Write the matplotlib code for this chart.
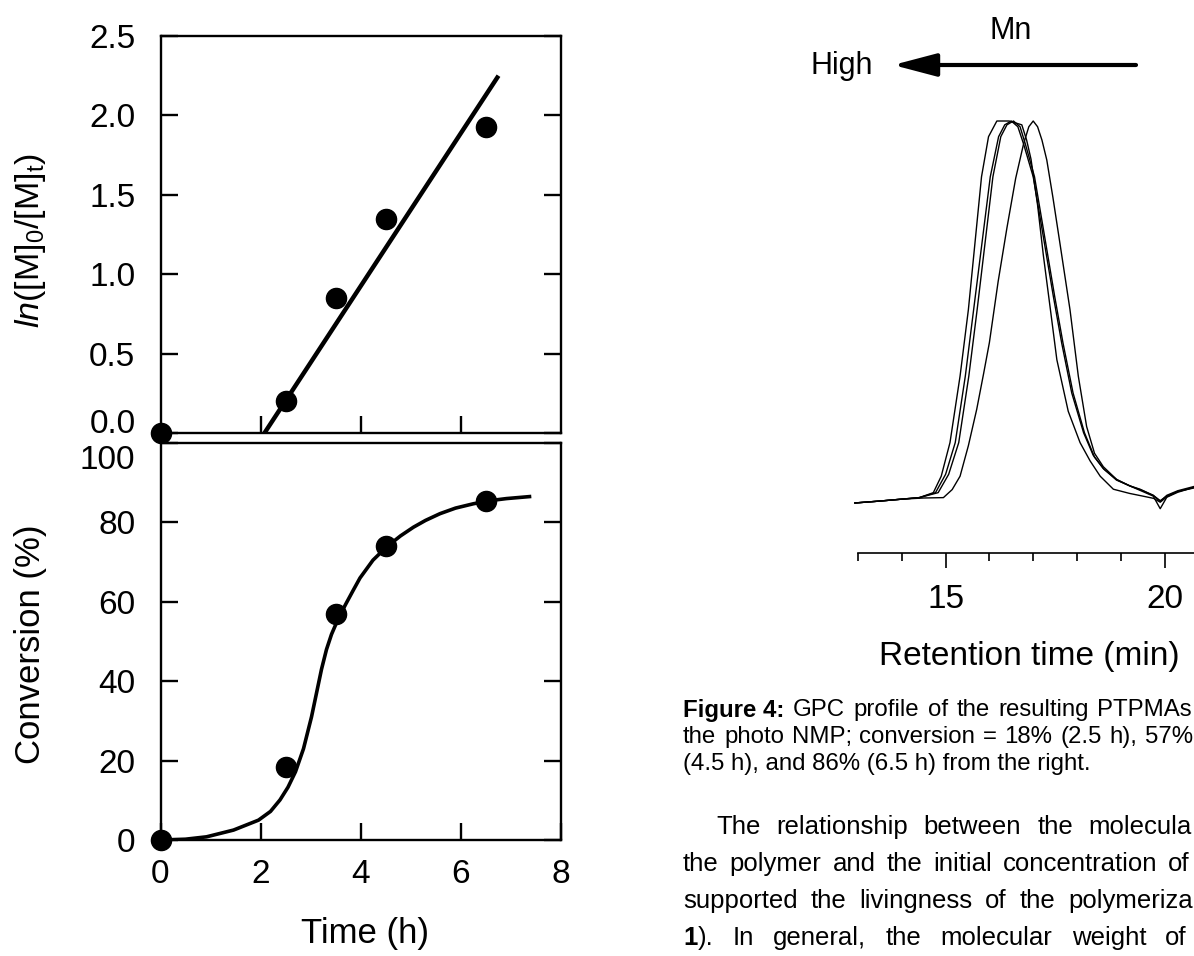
import numpy as np
import matplotlib
matplotlib.use("Agg")
import matplotlib.pyplot as plt
from matplotlib.transforms import ScaledTranslation

plt.rcParams["font.family"] = ["Liberation Sans", "DejaVu Sans"]
plt.rcParams["mathtext.fontset"] = "custom"
plt.rcParams["mathtext.rm"] = "Liberation Sans"
plt.rcParams["mathtext.it"] = "Liberation Sans:italic"

# --- kinetics data (left panels) ---
time_h = [0, 2.5, 3.5, 4.5, 6.5]
ln_ratio = [0.0, 0.20, 0.85, 1.35, 1.93]
conversion = [0, 18.5, 57, 74, 85.5]

# linear fit drawn in the upper panel
fit_time = [2.08, 6.76]
fit_ln = [0.0, 2.25]

# guide curve through the conversion points
guide_time = [0, 0.5, 0.92, 1.46, 1.96, 2.2, 2.39, 2.55, 2.7, 2.86, 3.02,
              3.12, 3.22, 3.32, 3.42, 3.55, 3.7, 3.85, 3.99, 4.25, 4.52, 4.8,
              5.06, 5.3, 5.59, 5.9, 6.26, 6.6, 6.92, 7.38]
guide_conv = [0, 0.2, 0.8, 2.5, 5.0, 7.2, 10.1, 13.3, 17.2, 23.0, 31.0,
              37.0, 43.0, 48.0, 51.8, 55.6, 59.3, 62.8, 66.0, 70.5, 73.8, 76.6,
              78.8, 80.5, 82.2, 83.6, 84.7, 85.5, 86.0, 86.5]

# --- GPC traces, normalised intensity vs retention time (min) ---
ret_86 = [12.93, 13.5, 14.0, 14.4, 14.72, 14.9, 15.1, 15.33, 15.52, 15.67,
          15.82, 15.98, 16.17, 16.45, 16.74, 16.85, 16.95, 17.1, 17.23, 17.4,
          17.54, 17.8, 18.07, 18.3, 18.53, 18.83, 19.2, 19.5, 19.75, 19.9,
          20.05, 20.3, 20.7]
int_86 = [0.0, 0.005, 0.01, 0.014, 0.027, 0.07, 0.158, 0.332, 0.506, 0.68,
          0.854, 0.959, 1.0, 1.0, 0.99, 0.95, 0.9, 0.78, 0.65, 0.5,
          0.375, 0.24, 0.158, 0.11, 0.07, 0.036, 0.025, 0.018, 0.012, 0.002,
          0.016, 0.03, 0.04]

ret_74 = [12.93, 13.5, 14.0, 14.4, 14.77, 15.0, 15.22, 15.45, 15.64, 15.83,
          16.02, 16.21, 16.35, 16.5, 16.65, 16.78, 17.0, 17.23, 17.46, 17.65,
          17.88, 18.15, 18.37, 18.6, 18.9, 19.2, 19.44, 19.74, 19.9, 20.05,
          20.3, 20.7]
int_74 = [0.0, 0.005, 0.01, 0.014, 0.027, 0.075, 0.158, 0.332, 0.506, 0.68,
          0.854, 0.959, 0.99, 1.0, 0.985, 0.94, 0.854, 0.698, 0.541, 0.419,
          0.288, 0.184, 0.125, 0.09, 0.06, 0.045, 0.036, 0.02, 0.006, 0.018,
          0.03, 0.042]

ret_57 = [12.93, 13.5, 14.0, 14.4, 14.83, 15.07, 15.3, 15.53, 15.72, 15.9,
          16.08, 16.26, 16.4, 16.55, 16.7, 16.82, 17.03, 17.26, 17.49, 17.68,
          17.91, 18.17, 18.4, 18.62, 18.92, 19.22, 19.46, 19.74, 19.9, 20.05,
          20.3, 20.7]
int_57 = [0.0, 0.005, 0.01, 0.014, 0.027, 0.075, 0.158, 0.332, 0.506, 0.68,
          0.854, 0.959, 0.99, 1.0, 0.985, 0.94, 0.854, 0.698, 0.541, 0.419,
          0.288, 0.184, 0.12, 0.088, 0.06, 0.044, 0.034, 0.02, 0.004, 0.02,
          0.032, 0.044]

ret_18 = [12.93, 13.5, 14.0, 14.5, 14.95, 15.15, 15.33, 15.52, 15.71, 15.87,
          16.0, 16.2, 16.4, 16.6, 16.78, 16.9, 17.0, 17.1, 17.2, 17.31, 17.45,
          17.61, 17.84, 18.03, 18.22, 18.4, 18.6, 18.9, 19.2, 19.5, 19.74,
          19.9, 20.05, 20.3, 20.7]
int_18 = [0.0, 0.005, 0.01, 0.013, 0.014, 0.035, 0.07, 0.15, 0.245, 0.34,
          0.42, 0.58, 0.72, 0.85, 0.94, 0.985, 1.0, 0.985, 0.95, 0.898, 0.8,
          0.68, 0.506, 0.332, 0.2, 0.13, 0.095, 0.062, 0.045, 0.03, 0.018,
          -0.015, 0.015, 0.028, 0.042]

gpc_ticks_major = [15, 20]
gpc_ticks_minor = [13, 14, 16, 17, 18, 19, 21]

W, H = 1194, 956


def fx(px):
    return px / W


def fy(py):
    return 1 - py / H


fig = plt.figure(figsize=(W / 100, H / 100), dpi=100)

tick_kw = dict(direction="in", length=12.5, width=1.7, labelsize=24)

# upper panel: ln([M]0/[M]t)
ax1 = fig.add_axes([fx(160.5), fy(433), 400 / W, 397 / H])
ax1.plot(fit_time, fit_ln, "-", color="black", lw=3.2, solid_capstyle="butt")
ax1.plot(time_h, ln_ratio, "o", color="black", ms=14.5, clip_on=False, zorder=5)
ax1.set_xlim(0, 8)
ax1.set_ylim(0, 2.5)
ax1.set_xticks([2, 4, 6])
ax1.set_yticks([0, 0.5, 1.0, 1.5, 2.0, 2.5])
ax1.set_yticklabels(["0.0", "0.5", "1.0", "1.5", "2.0", "2.5"])
ax1.tick_params(axis="x", labelbottom=False, **tick_kw)
ax1.tick_params(axis="y", left=True, right=True, pad=18, **tick_kw)
ax1.set_ylabel(r"$\mathit{ln}$([M]$_\mathrm{0}$/[M]$_\mathrm{t}$)", fontsize=24.5)
ax1.yaxis.set_label_coords((31 - 160.5) / 400, (433 - 240) / 397)
ax1.yaxis.label.set_va("center")

# lower panel: conversion
ax2 = fig.add_axes([fx(160.5), fy(840), 400 / W, 397 / H])
ax2.plot(guide_time, guide_conv, "-", color="black", lw=2.6)
ax2.plot(time_h, conversion, "o", color="black", ms=14.5, clip_on=False, zorder=5)
ax2.set_xlim(0, 8)
ax2.set_ylim(0, 100)
ax2.set_xticks([0, 2, 4, 6, 8])
ax2.set_yticks([0, 20, 40, 60, 80, 100])
ax2.tick_params(axis="x", pad=14, **tick_kw)
ax2.tick_params(axis="y", left=True, right=True, pad=18, **tick_kw)
ax2.set_xlabel("Time (h)", fontsize=25)
ax2.xaxis.set_label_coords((365 - 160.5) / 400, (840 - 933) / 397)
ax2.xaxis.label.set_va("center")
ax2.set_ylabel("Conversion (%)", fontsize=25)
ax2.yaxis.set_label_coords((31 - 160.5) / 400, (840 - 644) / 397)
ax2.yaxis.label.set_va("center")

for ax in (ax1, ax2):
    for s in ax.spines.values():
        s.set_linewidth(1.7)

# shift the two crowded labels at the joint apart
lab0 = ax1.yaxis.get_major_ticks()[0].label1
lab0.set_transform(lab0.get_transform() + ScaledTranslation(0, 0.12, fig.dpi_scale_trans))
lab100 = ax2.yaxis.get_major_ticks()[-1].label1
lab100.set_transform(lab100.get_transform() + ScaledTranslation(0, -0.14, fig.dpi_scale_trans))

# GPC panel
ax3 = fig.add_axes([fx(858), fy(553), 8 * 43.8 / W, 453 / H])
for rt, inten in [(ret_86, int_86), (ret_74, int_74), (ret_57, int_57), (ret_18, int_18)]:
    ax3.plot(rt, inten, "-", color="black", lw=1.0, clip_on=False)
ax3.set_xlim(13, 21)
ax3.set_ylim(-0.131, 1.055)
for side in ("left", "right", "top"):
    ax3.spines[side].set_visible(False)
ax3.spines["bottom"].set_linewidth(1.2)
ax3.set_yticks([])
ax3.set_xticks(gpc_ticks_major)
ax3.set_xticks(gpc_ticks_minor, minor=True)
ax3.tick_params(axis="x", which="major", direction="out", length=11, width=1.2,
                labelsize=24, pad=11)
ax3.tick_params(axis="x", which="minor", direction="out", length=6, width=1.2)
ax3.set_xlabel("Retention time (min)", fontsize=24)
ax3.xaxis.set_label_coords((1029 - 858) / (8 * 43.8), (553 - 657) / 453)
ax3.xaxis.label.set_va("center")

# Mn arrow
fig.text(fx(1011), fy(31), "Mn", fontsize=22, ha="center", va="center")
fig.text(fx(842), fy(66), "High", fontsize=22, ha="center", va="center")
ax3.annotate("", xy=(fx(893), fy(65)), xytext=(fx(1136), fy(65)),
             xycoords="figure fraction", textcoords="figure fraction",
             arrowprops=dict(arrowstyle="-|>,head_length=1.9,head_width=0.5",
                             lw=3, color="black", mutation_scale=14,
                             shrinkA=0, shrinkB=0))

# caption and body text, justified: (y, x_start, x_end, words)
# a word is a list of (text, weight) pieces set side by side
B, N = "bold", "normal"
caption = [
    (710, 683, 1192, [[("Figure 4:", B)], [("GPC", N)], [("profile", N)], [("of", N)],
                      [("the", N)], [("resulting", N)], [("PTPMAs", N)]]),
    (737, 683, 1193, [[("the", N)], [("photo", N)], [("NMP;", N)], [("conversion", N)],
                      [("=", N)], [("18%", N)], [("(2.5", N)], [("h),", N)], [("57%", N)]]),
    (764, 683, None, [[("(4.5 h), and 86% (6.5 h) from the right.", N)]]),
]
body = [
    (827, 716, 1192, [[("The", N)], [("relationship", N)], [("between", N)],
                      [("the", N)], [("molecula", N)]]),
    (864, 683, 1190, [[("the", N)], [("polymer", N)], [("and", N)], [("the", N)],
                      [("initial", N)], [("concentration", N)], [("of", N)]]),
    (901, 683, 1193, [[("supported", N)], [("the", N)], [("livingness", N)],
                      [("of", N)], [("the", N)], [("polymeriza", N)]]),
    (938, 683, 1187, [[("1", B), (").", N)], [("In", N)], [("general,", N)],
                      [("the", N)], [("molecular", N)], [("weight", N)], [("of", N)]]),
]

renderer = fig.canvas.get_renderer()
for block, fs in ((caption, 17.3), (body, 18.5)):
    for y, x0, x1, words in block:
        # make the text objects and measure each word
        made = []
        for word in words:
            pieces = []
            for txt, weight in word:
                t = fig.text(0, fy(y), txt, fontsize=fs, ha="left", va="center",
                             fontweight=weight)
                w = t.get_window_extent(renderer).width
                pieces.append((t, w))
            made.append(pieces)
        widths = [sum(w for _, w in p) for p in made]
        if x1 is None or len(made) == 1:
            gap = 0
        else:
            gap = (x1 - x0 - sum(widths)) / (len(made) - 1)
        x = x0
        for pieces, wsum in zip(made, widths):
            px = x
            for t, w in pieces:
                t.set_x(fx(px))
                px += w
            x += wsum + gap

fig.savefig("out.png", dpi=100)
